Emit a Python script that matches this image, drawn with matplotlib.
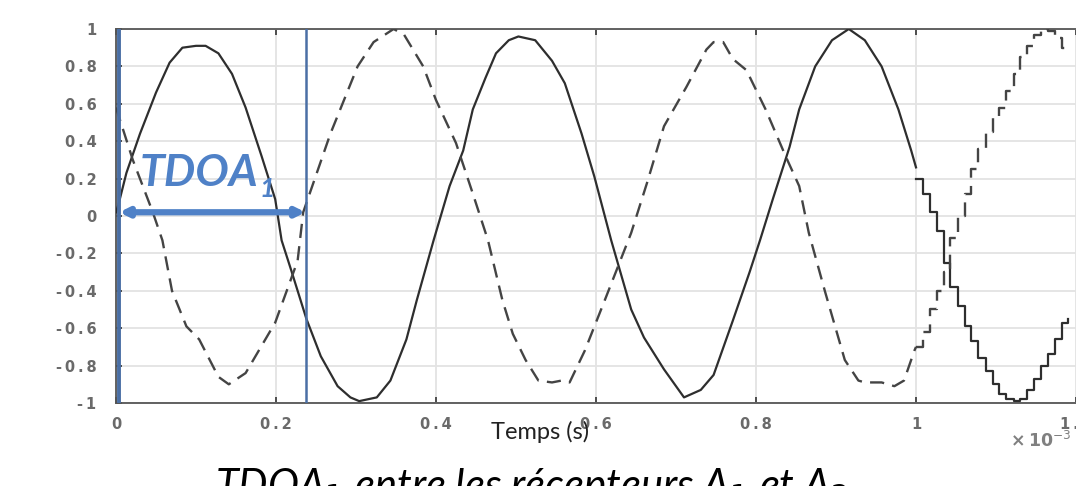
import matplotlib
matplotlib.use("Agg")
import matplotlib.pyplot as plt
import numpy as np

# ---- data ----
solid_t = [0.000, 0.003, 0.013, 0.030, 0.050, 0.067, 0.083, 0.100, 0.112, 0.128, 0.145, 0.162, 0.182,
           0.199, 0.207, 0.219, 0.238, 0.256, 0.277, 0.293, 0.304, 0.326, 0.343, 0.363, 0.376, 0.397,
           0.417, 0.434, 0.446, 0.462, 0.475, 0.491, 0.503, 0.524, 0.545, 0.561, 0.582, 0.598, 0.619,
           0.644, 0.660, 0.685, 0.710, 0.731, 0.747, 0.771, 0.792, 0.805, 0.821, 0.842, 0.854, 0.874,
           0.895, 0.916, 0.936, 0.957, 0.978, 0.994, 1.000]
solid_v = [0.02, 0.06, 0.23, 0.44, 0.66, 0.82, 0.90, 0.91, 0.91, 0.87, 0.76, 0.58, 0.32,
           0.09, -0.13, -0.29, -0.55, -0.75, -0.91, -0.97, -0.99, -0.97, -0.88, -0.66, -0.45, -0.13,
           0.16, 0.35, 0.57, 0.74, 0.87, 0.94, 0.96, 0.94, 0.83, 0.71, 0.44, 0.21, -0.13,
           -0.50, -0.65, -0.82, -0.97, -0.93, -0.85, -0.56, -0.30, -0.13, 0.09, 0.37, 0.57, 0.80,
           0.94, 1.00, 0.94, 0.80, 0.57, 0.35, 0.26]
solid_step_t = [1.000, 1.009, 1.017, 1.026, 1.035, 1.043, 1.052, 1.061, 1.069, 1.078, 1.087, 1.096,
                1.104, 1.113, 1.122, 1.130, 1.139, 1.148, 1.156, 1.165, 1.174, 1.183, 1.190]
solid_step_v = [0.20, 0.12, 0.02, -0.08, -0.25, -0.38, -0.48, -0.59, -0.67, -0.76, -0.83, -0.90,
                -0.95, -0.98, -0.99, -0.98, -0.93, -0.87, -0.80, -0.74, -0.66, -0.57, -0.55]

dashed_t = [0.000, 0.021, 0.046, 0.058, 0.070, 0.088, 0.104, 0.128, 0.141, 0.162, 0.199, 0.227,
            0.234, 0.268, 0.302, 0.322, 0.347, 0.360, 0.384, 0.400, 0.425, 0.446, 0.465, 0.483,
            0.496, 0.512, 0.528, 0.545, 0.557, 0.567, 0.586, 0.611, 0.644, 0.664, 0.685, 0.697,
            0.713, 0.738, 0.747, 0.759, 0.771, 0.788, 0.812, 0.837, 0.854, 0.866, 0.886, 0.911,
            0.928, 0.936, 0.957, 0.973, 0.985, 0.998, 1.000]
dashed_v = [0.58, 0.30, 0.02, -0.13, -0.40, -0.59, -0.66, -0.86, -0.90, -0.84, -0.57, -0.24,
            0.02, 0.44, 0.80, 0.93, 1.00, 0.97, 0.80, 0.62, 0.39, 0.12, -0.13, -0.45,
            -0.63, -0.77, -0.88, -0.89, -0.88, -0.89, -0.72, -0.45, -0.09, 0.18, 0.48, 0.57,
            0.69, 0.89, 0.93, 0.93, 0.84, 0.78, 0.57, 0.32, 0.16, -0.09, -0.40, -0.77,
            -0.88, -0.89, -0.89, -0.91, -0.88, -0.72, -0.70]
dashed_step_t = [1.000, 1.009, 1.017, 1.026, 1.035, 1.043, 1.052, 1.061, 1.069, 1.078, 1.087, 1.096,
                 1.104, 1.113, 1.122, 1.130, 1.139, 1.148, 1.156, 1.165, 1.174, 1.183, 1.190]
dashed_step_v = [-0.70, -0.62, -0.50, -0.40, -0.30, -0.12, 0.00, 0.12, 0.25, 0.36, 0.45, 0.53,
                 0.58, 0.67, 0.76, 0.85, 0.91, 0.97, 1.00, 0.99, 0.95, 0.90, 0.88]

tdoa_start = 0.004
tdoa_end = 0.237
tdoa_arrow_y = 0.02

x_ticks = [0, 0.2, 0.4, 0.6, 0.8, 1.0, 1.2]
x_ticklabels = ["0", "0.2", "0.4", "0.6", "0.8", "1", "1.2"]
y_ticks = [-1, -0.8, -0.6, -0.4, -0.2, 0, 0.2, 0.4, 0.6, 0.8, 1]
y_ticklabels = ["-1", "-0.8", "-0.6", "-0.4", "-0.2", "0", "0.2", "0.4", "0.6", "0.8", "1"]


def spaced(s):
    # MATLAB-like wide tick labels: thin spaces between characters
    return "\u2009".join(s)


# ---- figure ----
W, H = 1076, 486
fig = plt.figure(figsize=(W / 100, H / 100), dpi=100)
x0, x1, ytop, ybot = 116, 1076, 29, 403
ax = fig.add_axes([x0 / W, 1 - ybot / H, (x1 - x0) / W, (ybot - ytop) / H])
ax.set_xlim(0, (x1 - x0) / 809.0)
ax.set_ylim(-1, 1)

line_col = "#2e2e2e"
ax.plot(solid_t, solid_v, color=line_col, lw=1.6, solid_joinstyle="round", zorder=3)
ax.plot(solid_step_t, solid_step_v, color=line_col, lw=1.6, drawstyle="steps-post", zorder=3)
ax.plot(dashed_t, dashed_v, color="#444444", lw=1.7, dashes=(6, 3.5), zorder=3)
ax.plot(dashed_step_t, dashed_step_v, color="#444444", lw=1.7, dashes=(6, 3.5),
        drawstyle="steps-post", zorder=3)

ax.set_xticks(x_ticks)
ax.set_xticklabels([spaced(s) for s in x_ticklabels])
ax.set_yticks(y_ticks)
ax.set_yticklabels([spaced(s) for s in y_ticklabels])
ax.grid(True, color="#e3e3e3", lw=1.3)
ax.set_axisbelow(True)
ax.tick_params(direction="in", length=4, width=1.2, color="#333333",
               labelsize=10.5, labelcolor="#6a6a6a", top=True)
ax.tick_params(axis="y", pad=14)
ax.tick_params(axis="x", pad=10)
for lab in ax.get_xticklabels() + ax.get_yticklabels():
    lab.set_fontweight("bold")
    lab.set_family("DejaVu Sans")
for side in ["top", "bottom", "left"]:
    ax.spines[side].set_color("#555555")
    ax.spines[side].set_linewidth(1.3)
ax.spines["right"].set_visible(False)

# blue markers for TDOA
blue_line = "#4a6fa5"
blue_arrow = "#4f81c7"
ax.axvline(tdoa_start, color=blue_line, lw=2.8, zorder=4)
ax.axvline(tdoa_end, color=blue_line, lw=1.8, zorder=4)
ax.annotate("", xy=(tdoa_start, tdoa_arrow_y), xytext=(tdoa_end, tdoa_arrow_y),
            arrowprops=dict(arrowstyle="<|-|>", color=blue_arrow, lw=4.5,
                            mutation_scale=12, shrinkA=0, shrinkB=0), zorder=5)
t_lab = ax.text(0.029, 0.23, "TDOA", color=blue_arrow, fontsize=32, family="Lato",
                fontweight="bold", style="italic", ha="left", va="center", zorder=5)
ax.annotate("1", xy=(1.0, 0.0), xycoords=t_lab, xytext=(1, 3), textcoords="offset points",
            color=blue_arrow, fontsize=19, family="Lato", fontweight="bold", style="italic",
            ha="left", va="center", zorder=5)

# axis label and exponent
fig.text(540 / W, 1 - 432 / H, "Temps (s)", ha="center", va="center",
         fontsize=17, family="Lato", color="#222222")
fig.text(1010 / W, 1 - 441 / H, "\u00d7\u200910$^{-3}$", ha="left", va="center",
         fontsize=12.5, color="#808080", fontweight="bold")

# caption (cut by bottom edge, as in the reference)
fig.text(215 / W, 1 - 466 / H, r"TDOA$_1$ entre les récepteurs A$_1$ et A$_2$",
         ha="left", va="top", fontsize=30, family="Lato", style="italic",
         color="#000000")

fig.savefig("out.png", dpi=100, facecolor="white")
